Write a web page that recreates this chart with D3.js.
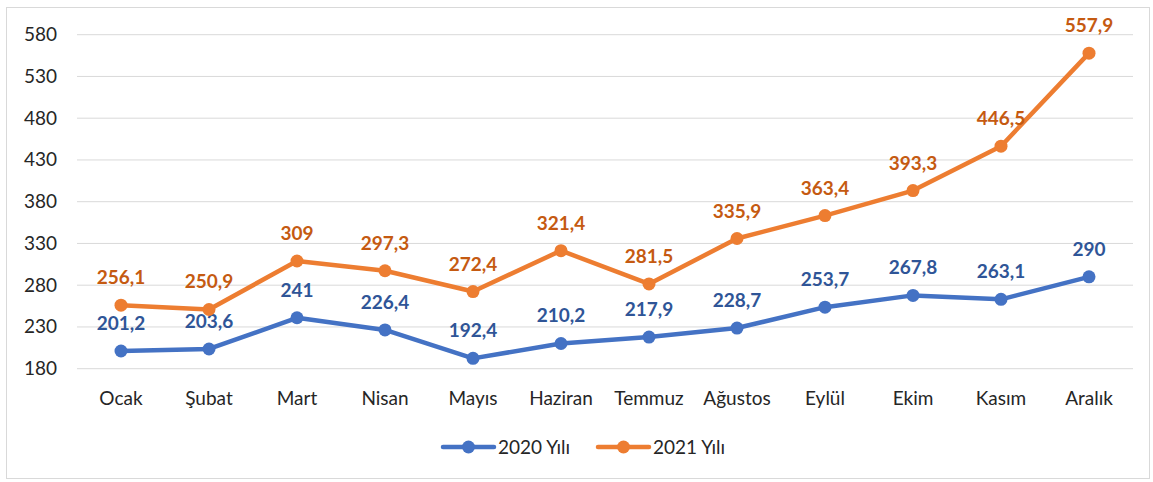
<html>
<head>
<title>2020-2021</title>
<script src="https://cdn.jsdelivr.net/npm/d3@7"></script>
<style>
  body { margin: 0; background: #fff; }
  text { font-family: Lato, "Open Sans", "Noto Sans", sans-serif; }
</style>
</head>
<body>
<script>
// data
var months = ["Ocak", "Şubat", "Mart", "Nisan", "Mayıs", "Haziran", "Temmuz", "Ağustos", "Eylül", "Ekim", "Kasım", "Aralık"];
var y2020 = [201.2, 203.6, 241, 226.4, 192.4, 210.2, 217.9, 228.7, 253.7, 267.8, 263.1, 290];
var y2021 = [256.1, 250.9, 309, 297.3, 272.4, 321.4, 281.5, 335.9, 363.4, 393.3, 446.5, 557.9];
var yTicks = [180, 230, 280, 330, 380, 430, 480, 530, 580];
var seriesNames = ["2020 Yılı", "2021 Yılı"];

var w = 1153, h = 482;
var svg = d3.select("body").append("svg").attr("width", w).attr("height", h);

svg.append("rect").attr("x", 6.5).attr("y", 7.5).attr("width", 1143).attr("height", 471)
   .attr("fill", "#fff").attr("stroke", "#d9d9d9");

var plotLeft = 77, plotRight = 1133, plotTop = 34.7, plotBottom = 368.7;

var x = d3.scaleBand().domain(months).range([plotLeft, plotRight]);
var y = d3.scaleLinear().domain([180, 580]).range([plotBottom, plotTop]);

// grid
svg.selectAll("line.grid").data(yTicks).enter().append("line")
   .attr("class", "grid")
   .attr("x1", plotLeft).attr("x2", plotRight)
   .attr("y1", function(d) { return y(d); }).attr("y2", function(d) { return y(d); })
   .attr("stroke", "#d9d9d9").attr("stroke-width", 1);

// y labels
svg.selectAll("text.ylab").data(yTicks).enter().append("text")
   .attr("class", "ylab")
   .attr("x", 57).attr("y", function(d) { return y(d) + 6.5; })
   .attr("text-anchor", "end").attr("font-size", 19).attr("fill", "#262626")
   .text(function(d) { return d; });

// x labels
svg.selectAll("text.xlab").data(months).enter().append("text")
   .attr("class", "xlab")
   .attr("x", function(d) { return x(d) + x.bandwidth() / 2; })
   .attr("y", 405)
   .attr("text-anchor", "middle").attr("font-size", 19).attr("fill", "#262626")
   .text(function(d) { return d; });

var series = [
  { name: seriesNames[0], values: y2020, color: "#4472c4", labelColor: "#2f5597" },
  { name: seriesNames[1], values: y2021, color: "#ed7d31", labelColor: "#c55a11" }
];

var line = d3.line()
   .x(function(d, i) { return x(months[i]) + x.bandwidth() / 2; })
   .y(function(d) { return y(d); });

series.forEach(function(s) {
  var g = svg.append("g");
  g.append("path").datum(s.values)
   .attr("d", line).attr("fill", "none")
   .attr("stroke", s.color).attr("stroke-width", 4.5).attr("stroke-linejoin", "round");
  g.selectAll("circle").data(s.values).enter().append("circle")
   .attr("cx", function(d, i) { return x(months[i]) + x.bandwidth() / 2; })
   .attr("cy", function(d) { return y(d); })
   .attr("r", 6.5).attr("fill", s.color);
  g.selectAll("text").data(s.values).enter().append("text")
   .attr("x", function(d, i) { return x(months[i]) + x.bandwidth() / 2; })
   .attr("y", function(d) { return y(d) - 21; })
   .attr("text-anchor", "middle").attr("font-size", 19).attr("font-weight", "bold")
   .attr("fill", s.labelColor)
   .text(function(d) { return String(d).replace(".", ","); });
});

// legend
var legX = [443, 598];
series.forEach(function(s, i) {
  var lg = svg.append("g").attr("transform", "translate(" + legX[i] + ",447)");
  lg.append("line").attr("x1", 0).attr("x2", 51).attr("y1", 0).attr("y2", 0)
    .attr("stroke", s.color).attr("stroke-width", 4.5).attr("stroke-linecap", "round");
  lg.append("circle").attr("cx", 25.5).attr("cy", 0).attr("r", 6.5).attr("fill", s.color);
  lg.append("text").attr("x", 55).attr("y", 6.5).attr("font-size", 19).attr("fill", "#262626")
    .text(s.name);
});
</script>
</body>
</html>
